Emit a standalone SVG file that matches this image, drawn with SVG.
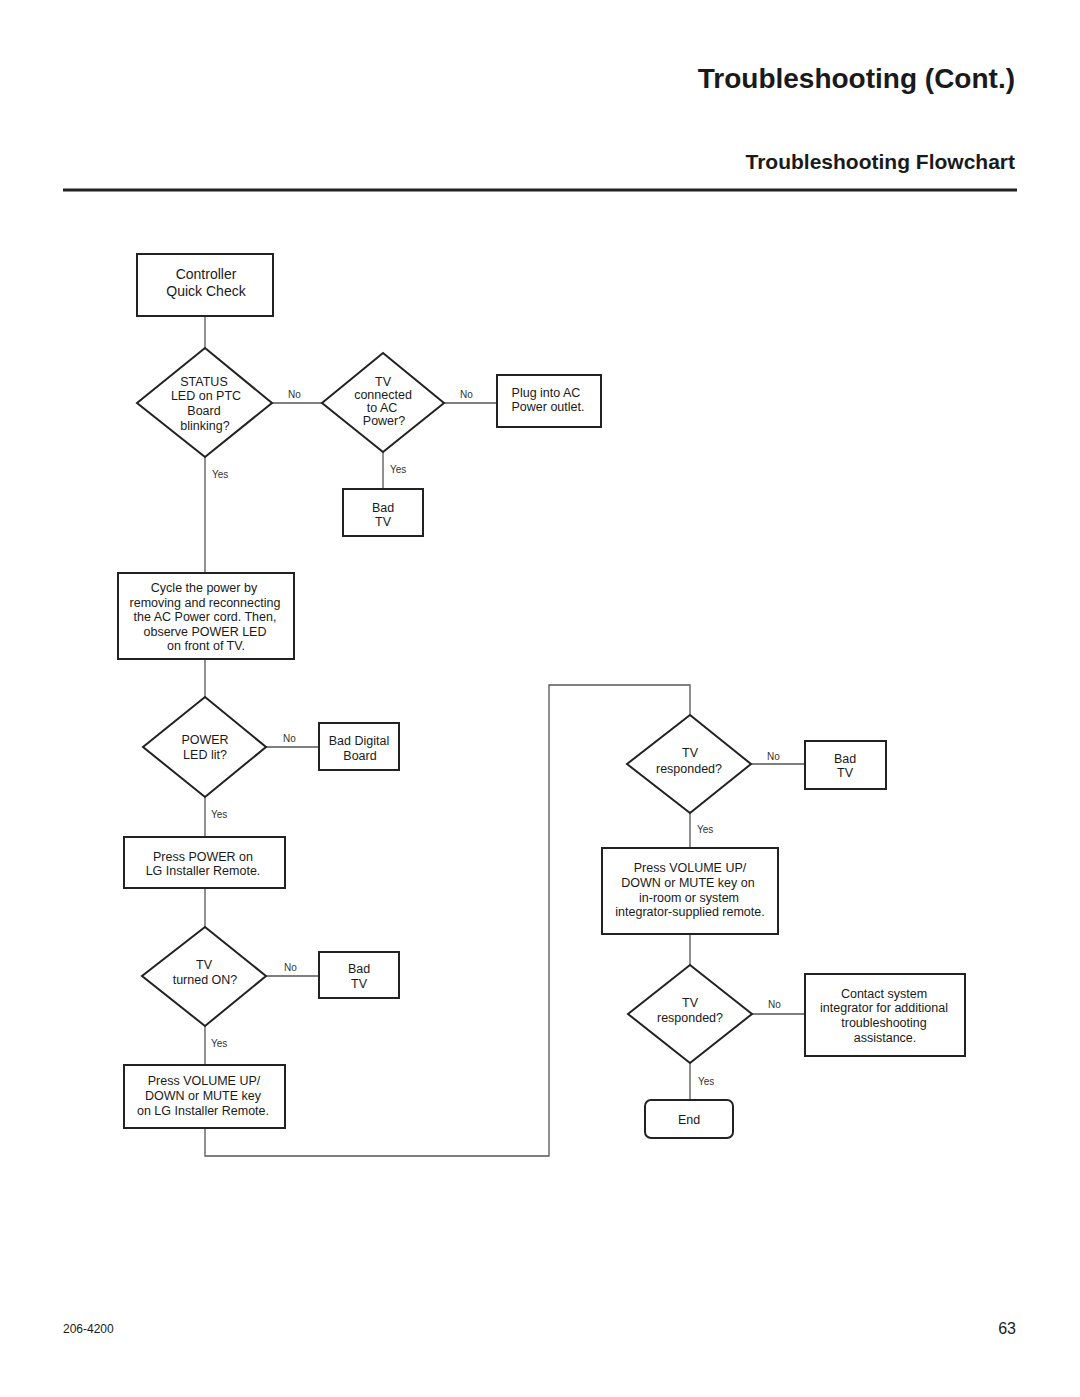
<svg xmlns="http://www.w3.org/2000/svg" width="1080" height="1397" viewBox="0 0 1080 1397">
<style>
text{font-family:"Liberation Sans",Arial,sans-serif;fill:#1a1a1a}
.n rect,.n polygon{fill:#fff;stroke:#222;stroke-width:2}
.t{font-size:12.5px;text-anchor:middle}
.q{font-size:14px;text-anchor:middle}
.l{font-size:10px;fill:#333}
.c{fill:none;stroke:#555;stroke-width:1.3}
</style>
<rect width="1080" height="1397" fill="#fff"/>
<text x="1015" y="88" font-size="28" font-weight="bold" text-anchor="end">Troubleshooting (Cont.)</text>
<text x="1015" y="169" font-size="21" font-weight="bold" text-anchor="end">Troubleshooting Flowchart</text>
<line x1="63" y1="190" x2="1017" y2="190" stroke="#222" stroke-width="3"/>

<g id="connectors">
<path class="c" d="M205 316V348"/>
<path class="c" d="M272 403H322"/>
<path class="c" d="M444 403H497"/>
<path class="c" d="M383 452V489"/>
<path class="c" d="M205 457V573"/>
<path class="c" d="M205 659V697"/>
<path class="c" d="M266 747H319"/>
<path class="c" d="M205 797V837"/>
<path class="c" d="M205 888V927"/>
<path class="c" d="M266 976H319"/>
<path class="c" d="M205 1026V1065"/>
<path class="c" d="M205 1128V1156H549V685H690V715"/>
<path class="c" d="M751 764H805"/>
<path class="c" d="M690 813V848"/>
<path class="c" d="M690 934V965"/>
<path class="c" d="M752 1014H805"/>
<path class="c" d="M690 1063V1100"/>
<text class="l" x="288" y="398">No</text>
<text class="l" x="460" y="398">No</text>
<text class="l" x="390" y="473">Yes</text>
<text class="l" x="212" y="478">Yes</text>
<text class="l" x="283" y="742">No</text>
<text class="l" x="211" y="818">Yes</text>
<text class="l" x="284" y="971">No</text>
<text class="l" x="211" y="1047">Yes</text>
<text class="l" x="767" y="760">No</text>
<text class="l" x="697" y="833">Yes</text>
<text class="l" x="768" y="1008">No</text>
<text class="l" x="698" y="1085">Yes</text>
</g>

<g id="start" class="n"><rect x="137" y="254" width="136" height="62"/>
<text class="q" x="206" y="279">Controller</text><text class="q" x="206" y="296">Quick Check</text></g>

<g id="d-status" class="n"><polygon points="205,348 272,403 205,457 137,403"/>
<text class="t" x="204" y="386">STATUS</text><text class="t" x="206" y="400">LED on PTC</text><text class="t" x="204" y="415">Board</text><text class="t" x="205" y="430">blinking?</text></g>

<g id="d-connected" class="n"><polygon points="383,353 444,403 383,452 322,403"/>
<text class="t" x="383" y="386">TV</text><text class="t" x="383" y="399">connected</text><text class="t" x="382" y="412">to AC</text><text class="t" x="384" y="425">Power?</text></g>

<g id="plug" class="n"><rect x="497" y="375" width="104" height="52"/>
<text class="t" x="546" y="397">Plug into AC</text><text class="t" x="548" y="411">Power outlet.</text></g>

<g id="badtv1" class="n"><rect x="343" y="489" width="80" height="47"/>
<text class="t" x="383" y="512">Bad</text><text class="t" x="383" y="526">TV</text></g>

<g id="cycle" class="n"><rect x="118" y="573" width="176" height="86"/>
<text class="t" x="204" y="592">Cycle the power by</text><text class="t" x="205" y="607">removing and reconnecting</text><text class="t" x="205" y="621">the AC Power cord. Then,</text><text class="t" x="205" y="636">observe POWER LED</text><text class="t" x="206" y="650">on front of TV.</text></g>

<g id="d-powerled" class="n"><polygon points="205,697 266,747 205,797 143,747"/>
<text class="t" x="205" y="744">POWER</text><text class="t" x="205" y="759">LED lit?</text></g>

<g id="baddigital" class="n"><rect x="319" y="723" width="80" height="47"/>
<text class="t" x="359" y="745">Bad Digital</text><text class="t" x="360" y="760">Board</text></g>

<g id="presspower" class="n"><rect x="124" y="837" width="161" height="51"/>
<text class="t" x="203" y="861">Press POWER on</text><text class="t" x="203" y="875">LG Installer Remote.</text></g>

<g id="d-turnedon" class="n"><polygon points="205,927 266,976 205,1026 142,976"/>
<text class="t" x="204" y="969">TV</text><text class="t" x="205" y="984">turned ON?</text></g>

<g id="badtv2" class="n"><rect x="319" y="952" width="80" height="46"/>
<text class="t" x="359" y="973">Bad</text><text class="t" x="359" y="988">TV</text></g>

<g id="pressvol1" class="n"><rect x="124" y="1065" width="161" height="63"/>
<text class="t" x="204" y="1085">Press VOLUME UP/</text><text class="t" x="203" y="1100">DOWN or MUTE key</text><text class="t" x="203" y="1115">on LG Installer Remote.</text></g>

<g id="d-responded1" class="n"><polygon points="690,715 751,764 690,813 627,764"/>
<text class="t" x="690" y="757">TV</text><text class="t" x="689" y="773">responded?</text></g>

<g id="badtv3" class="n"><rect x="805" y="741" width="81" height="48"/>
<text class="t" x="845" y="763">Bad</text><text class="t" x="845" y="777">TV</text></g>

<g id="pressvol2" class="n"><rect x="602" y="848" width="176" height="86"/>
<text class="t" x="690" y="872">Press VOLUME UP/</text><text class="t" x="688" y="887">DOWN or MUTE key on</text><text class="t" x="689" y="902">in-room or system</text><text class="t" x="690" y="916">integrator-supplied remote.</text></g>

<g id="d-responded2" class="n"><polygon points="690,965 752,1014 690,1063 628,1014"/>
<text class="t" x="690" y="1007">TV</text><text class="t" x="690" y="1022">responded?</text></g>

<g id="contact" class="n"><rect x="805" y="974" width="160" height="82"/>
<text class="t" x="884" y="998">Contact system</text><text class="t" x="884" y="1012">integrator for additional</text><text class="t" x="884" y="1027">troubleshooting</text><text class="t" x="885" y="1042">assistance.</text></g>

<g id="end" class="n"><rect x="645" y="1100" width="88" height="38" rx="6"/>
<text class="t" x="689" y="1124">End</text></g>

<text x="63" y="1333" font-size="12">206-4200</text>
<text x="1016" y="1334" font-size="16" text-anchor="end">63</text>
</svg>
